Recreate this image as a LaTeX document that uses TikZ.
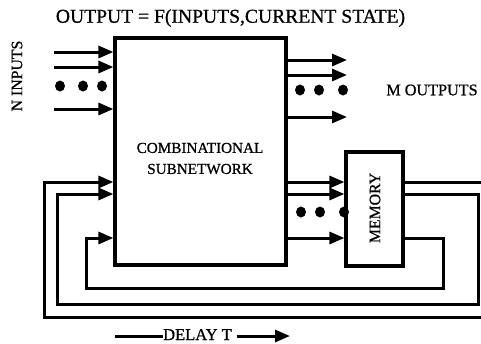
\documentclass[tikz,border=0pt]{standalone}
\usepackage{fontspec}
\setmainfont[FakeBold=0.8]{Liberation Serif}
\usetikzlibrary{arrows.meta,shapes.geometric}
\begin{document}
\begin{tikzpicture}[x=1pt,y=-1pt,
  line/.style={line width=3pt},
  arr/.style={line width=3pt,-{Triangle[length=15pt,width=12pt]}},
  box/.style={draw,line width=3.2pt,inner sep=0pt},
  dot/.style={ellipse,fill,inner sep=0pt,minimum width=10pt,minimum height=11pt},
  lbl/.style={inner sep=0pt,font=\fontsize{15.8}{17}\selectfont}]
\useasboundingbox (0,0) rectangle (481,343);
\clip (0,0) rectangle (481,343);
% boxes
\node[box,minimum width=171pt,minimum height=227pt] (comb) at (200.5,151.5) {};
\node[box,minimum width=57pt,minimum height=114pt] (mem) at (374.5,209) {};
% labels
\node[inner sep=0pt,font=\fontsize{19.6}{21}\selectfont] (title) at (230.5,18) {OUTPUT = F(INPUTS,CURRENT STATE)};
\node[lbl,rotate=90] (nin) at (17,76) {N INPUTS};
\node[lbl,font=\fontsize{16.2}{17}\selectfont] (mout) at (432,90) {M OUTPUTS};
\node[inner sep=0pt,align=center,font=\fontsize{15.2}{21}\selectfont] (ctext) at (200,158.5) {COMBINATIONAL\\SUBNETWORK};
\node[lbl,rotate=90] (mtext) at (375,208) {MEMORY};
% inputs
\coordinate (i1) at (54,52);
\coordinate (i2) at (54,67);
\coordinate (i3) at (54,109);
\foreach \c in {i1,i2,i3} \draw[arr] (\c) -- (\c -| comb.west);
\node[dot] (id1) at (60,86) {};
\node[dot] (id2) at (83,86) {};
\node[dot] (id3) at (102,86) {};
% outputs
\coordinate (o1) at (347,60);
\coordinate (o2) at (347,75);
\coordinate (o3) at (347,117);
\foreach \c in {o1,o2,o3} \draw[arr] (\c -| comb.east) -- (\c);
\node[dot] (od1) at (300,90) {};
\node[dot] (od2) at (319,90) {};
\node[dot] (od3) at (343,90) {};
% state lines into memory
\coordinate (fa) at (0,182);
\coordinate (fb) at (0,194);
\coordinate (fc) at (0,238);
\foreach \c in {fa,fb,fc} \draw[arr] (comb.east |- \c) -- (mem.west |- \c);
\node[dot] (md1) at (301,212) {};
\node[dot] (md2) at (320,212) {};
\node[dot] (md3) at (344,212) {};
% feedback loops
\coordinate (ra) at (490,317);
\coordinate (la) at (44,182);
\coordinate (rb) at (478,304);
\coordinate (lb) at (57,194);
\coordinate (rc) at (443,288);
\coordinate (lc) at (86,238);
\draw[arr] (mem.east |- fa) -| (ra) -| (la) -- (comb.west |- fa);
\draw[arr] (mem.east |- fb) -| (rb) -| (lb) -- (comb.west |- fb);
\draw[arr] (mem.east |- fc) -| (rc) -| (lc) -- (comb.west |- fc);
% delay
\node[lbl,font=\fontsize{16.5}{18}\selectfont,anchor=base] (delay) at (197.5,340) {DELAY T};
\coordinate (ds) at (115,336);
\coordinate (de) at (290,336);
\draw[line] (ds) -- (ds -| delay.west);
\draw[arr] (de -| delay.east) ++(5,0) -- (de);
\end{tikzpicture}
\end{document}
